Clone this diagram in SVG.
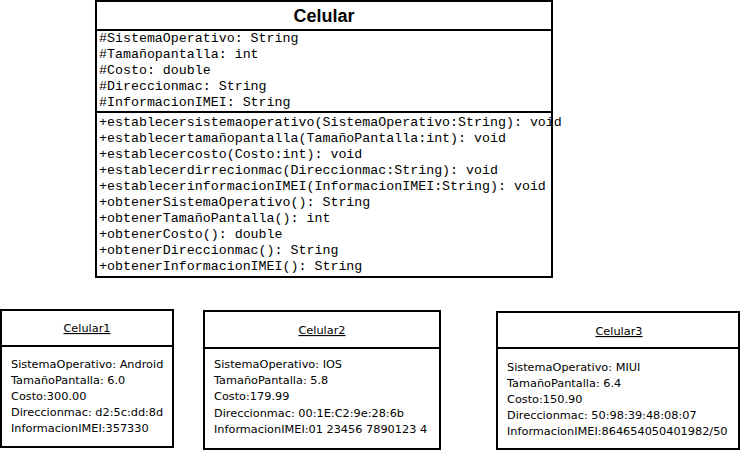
<svg xmlns="http://www.w3.org/2000/svg" width="741" height="451" viewBox="0 0 741 451">
<style>
.box{fill:#fff;stroke:#000;stroke-width:2}
.sep{stroke:#000;stroke-width:2}
.mono{font-family:"Liberation Mono","Courier New",monospace;font-size:13.3px;fill:#000}
.title{font-family:"Liberation Sans",Arial,sans-serif;font-size:18px;font-weight:bold;fill:#000}
.obj{font-family:"DejaVu Sans","Liberation Sans",sans-serif;font-size:11.3px;fill:#000}
.objt{font-family:"DejaVu Sans","Liberation Sans",sans-serif;font-size:11.3px;fill:#000;text-decoration:underline}
</style>
<rect width="741" height="451" fill="#fff"/>
<g id="Celular">
<rect class="box" x="96" y="1" width="456" height="276"/>
<line class="sep" x1="96" y1="30" x2="552" y2="30"/>
<line class="sep" x1="96" y1="112" x2="552" y2="112"/>
<text class="title" x="324" y="22" text-anchor="middle">Celular</text>
<text class="mono" x="99" y="42">#SistemaOperativo: String</text>
<text class="mono" x="99" y="58">#Tamañopantalla: int</text>
<text class="mono" x="99" y="74">#Costo: double</text>
<text class="mono" x="99" y="90">#Direccionmac: String</text>
<text class="mono" x="99" y="106">#InformacionIMEI: String</text>
<text class="mono" x="99" y="126">+establecersistemaoperativo(SistemaOperativo:String): void</text>
<text class="mono" x="99" y="142">+establecertamañopantalla(TamañoPantalla:int): void</text>
<text class="mono" x="99" y="158">+establecercosto(Costo:int): void</text>
<text class="mono" x="99" y="174">+establecerdirrecionmac(Direccionmac:String): void</text>
<text class="mono" x="99" y="190">+establecerinformacionIMEI(InformacionIMEI:String): void</text>
<text class="mono" x="99" y="206">+obtenerSistemaOperativo(): String</text>
<text class="mono" x="99" y="222">+obtenerTamañoPantalla(): int</text>
<text class="mono" x="99" y="238">+obtenerCosto(): double</text>
<text class="mono" x="99" y="254">+obtenerDireccionmac(): String</text>
<text class="mono" x="99" y="270">+obtenerInformacionIMEI(): String</text>
</g>
<g id="Celular1">
<rect class="box" x="1" y="310" width="172" height="137"/>
<line class="sep" x1="1" y1="346" x2="173" y2="346"/>
<text class="objt" x="87" y="332" text-anchor="middle">Celular1</text>
<text class="obj" x="11" y="368">SistemaOperativo: Android</text>
<text class="obj" x="11" y="384">TamañoPantalla: 6.0</text>
<text class="obj" x="11" y="400">Costo:300.00</text>
<text class="obj" x="11" y="416">Direccionmac: d2:5c:dd:8d</text>
<text class="obj" x="11" y="432">InformacionIMEI:357330</text>
</g>
<g id="Celular2">
<rect class="box" x="204" y="311" width="236" height="138"/>
<line class="sep" x1="204" y1="348" x2="440" y2="348"/>
<text class="objt" x="322" y="334" text-anchor="middle">Celular2</text>
<text class="obj" x="214" y="368">SistemaOperativo: IOS</text>
<text class="obj" x="214" y="384">TamañoPantalla: 5.8</text>
<text class="obj" x="214" y="400">Costo:179.99</text>
<text class="obj" x="214" y="417">Direccionmac: 00:1E:C2:9e:28:6b</text>
<text class="obj" x="214" y="433">InformacionIMEI:01 23456 7890123 4</text>
</g>
<g id="Celular3">
<rect class="box" x="497" y="312" width="242" height="137"/>
<line class="sep" x1="497" y1="348" x2="739" y2="348"/>
<text class="objt" x="619" y="335" text-anchor="middle">Celular3</text>
<text class="obj" x="507" y="371">SistemaOperativo: MIUI</text>
<text class="obj" x="507" y="387">TamañoPantalla: 6.4</text>
<text class="obj" x="507" y="403">Costo:150.90</text>
<text class="obj" x="507" y="419">Direccionmac: 50:98:39:48:08:07</text>
<text class="obj" x="507" y="435">InformacionIMEI:864654050401982/50</text>
</g>
<g id="connectors"></g>
</svg>
